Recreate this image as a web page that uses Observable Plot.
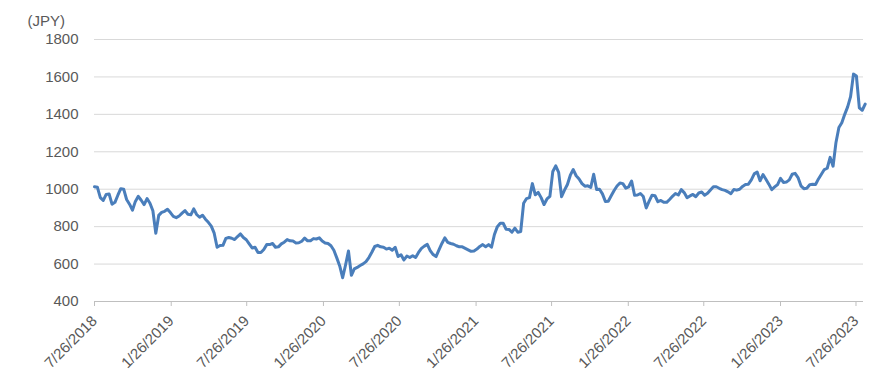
<!DOCTYPE html>
<html>
<head>
<meta charset="utf-8">
<script src="https://cdn.jsdelivr.net/npm/d3@7"></script>
<script src="https://cdn.jsdelivr.net/npm/@observablehq/plot@0.6"></script>
<style>
  html, body { margin: 0; padding: 0; background: #fff; }
</style>
</head>
<body>
<div id="chart"></div>
<script>
// ---- data (weekly closes, starting 2018-07-26) ----
const startDate = "2018-07-26";
const endDate = "2023-08-13";
const weeklyPrices = [
  1013,1010,955,940,972,975,920,930,968,1003,
  1000,945,920,888,935,962,941,918,950,925,
  885,765,860,876,882,893,875,855,848,857,
  872,886,866,863,895,865,850,861,840,823,
  803,765,690,699,700,737,742,738,731,747,
  761,742,730,708,686,690,662,662,678,704,
  704,710,690,692,708,717,731,724,723,713,
  714,722,739,724,725,736,734,740,723,713,
  710,698,674,633,590,527,595,670,540,574,
  582,592,601,613,635,663,694,700,692,690,
  680,685,674,690,640,650,622,643,635,645,
  635,662,684,696,705,672,651,640,676,710,
  740,716,710,706,698,692,692,684,676,668,
  670,680,694,704,693,704,690,758,800,818,
  818,786,785,770,792,770,774,925,950,955,
  1030,970,983,955,918,948,962,1095,1125,1090,
  960,995,1025,1075,1105,1072,1055,1030,1016,1018,
  1010,1080,998,1000,975,935,936,965,993,1017,
  1033,1030,1006,1013,1044,968,969,977,961,900,
  936,968,965,933,940,930,930,945,962,977,
  969,998,982,955,964,972,960,980,985,968,
  978,996,1013,1013,1005,998,994,986,976,998,
  995,1000,1015,1025,1027,1050,1082,1092,1045,1078,
  1053,1027,998,1012,1025,1058,1036,1038,1050,1080,
  1085,1062,1018,1003,1005,1024,1026,1025,1055,1080,
  1105,1112,1170,1123,1250,1330,1355,1400,1440,1495,
  1615,1605,1435,1422,1455
];
const yTicks = [400, 600, 800, 1000, 1200, 1400, 1600, 1800];
const xTickDates = [
  "2018-07-26","2019-01-26","2019-07-26","2020-01-26","2020-07-26","2021-01-26",
  "2021-07-26","2022-01-26","2022-07-26","2023-01-26","2023-07-26"
];
const unitLabel = "(JPY)";

// ---- build table ----
const parse = s => new Date(s + "T00:00:00Z");
const start = parse(startDate);
const data = weeklyPrices.map((v, i) => ({ date: d3.utcDay.offset(start, 7 * i), price: v }));
const fmt = d => `${d.getUTCMonth() + 1}/${d.getUTCDate()}/${d.getUTCFullYear()}`;

const chart = Plot.plot({
  width: 886,
  height: 387,
  marginLeft: 94,
  marginRight: 23,
  marginTop: 39,
  marginBottom: 86,
  style: { fontFamily: "'Liberation Sans', Arial, sans-serif", fontSize: "15px", color: "#595959", background: "#fff" },
  x: { type: "utc", domain: [parse(startDate), parse(endDate)] },
  y: { domain: [400, 1800] },
  marks: [
    Plot.ruleY(yTicks.filter(t => t > 400), { stroke: "#d9d9d9", strokeWidth: 1 }),
    Plot.ruleY([400], { stroke: "#bfbfbf", strokeWidth: 1 }),
    Plot.axisY({ ticks: yTicks, tickSize: 0, tickPadding: 16, label: null, tickFormat: d => String(d) }),
    Plot.axisX({
      ticks: xTickDates.map(parse), tickFormat: fmt, tickRotate: -45,
      tickSize: 5, tickPadding: 12, stroke: "#bfbfbf", label: null
    }),
    Plot.line(data, { x: "date", y: "price", stroke: "#4a7ebb", strokeWidth: 3, strokeLinejoin: "round", strokeLinecap: "round" }),
    Plot.text([unitLabel], { text: d => d, frameAnchor: "top-left", dx: -67, dy: -18, textAnchor: "start", lineAnchor: "middle", fill: "#595959" })
  ]
});
document.getElementById("chart").appendChild(chart);
</script>
</body>
</html>
